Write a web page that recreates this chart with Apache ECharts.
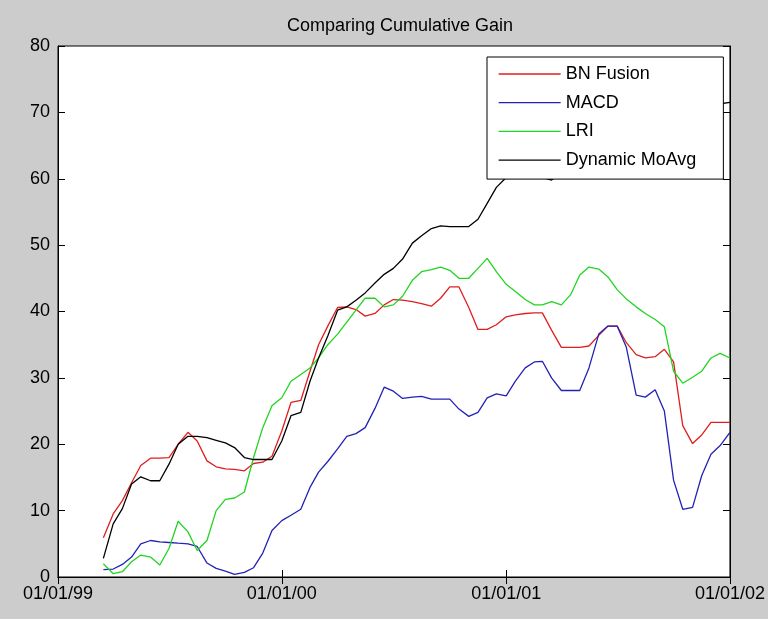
<!DOCTYPE html>
<html>
<head>
<meta charset="utf-8">
<script src="https://cdn.jsdelivr.net/npm/echarts@6/dist/echarts.min.js"></script>
<style>
  html, body { margin: 0; padding: 0; background: #cccccc; }
  #d_chart { width: 768px; height: 619px; }
</style>
</head>
<body>
<div id="d_chart"></div>
<script>
// sample dates (1st and 16th of each month)
var dates = [
  '1999-03-16', '1999-04-01', '1999-04-16', '1999-05-01', '1999-05-16', '1999-06-01', '1999-06-16',
  '1999-07-01', '1999-07-16', '1999-08-01', '1999-08-16', '1999-09-01', '1999-09-16', '1999-10-01',
  '1999-10-16', '1999-11-01', '1999-11-16', '1999-12-01', '1999-12-16',
  '2000-01-01', '2000-01-16', '2000-02-01', '2000-02-16', '2000-03-01', '2000-03-16', '2000-04-01',
  '2000-04-16', '2000-05-01', '2000-05-16', '2000-06-01', '2000-06-16', '2000-07-01', '2000-07-16',
  '2000-08-01', '2000-08-16', '2000-09-01', '2000-09-16', '2000-10-01', '2000-10-16', '2000-11-01',
  '2000-11-16', '2000-12-01', '2000-12-16',
  '2001-01-01', '2001-01-16', '2001-02-01', '2001-02-16', '2001-03-01', '2001-03-16', '2001-04-01',
  '2001-04-16', '2001-05-01', '2001-05-16', '2001-06-01', '2001-06-16', '2001-07-01', '2001-07-16',
  '2001-08-01', '2001-08-16', '2001-09-01', '2001-09-16', '2001-10-01', '2001-10-16', '2001-11-01',
  '2001-11-16', '2001-12-01', '2001-12-16',
  '2002-01-01'
]
var bnFusion = [
  5.9, 9.5, 11.5, 14.2, 16.8, 17.9, 17.9, 18.0, 20.0, 21.8, 20.5, 17.5, 16.6, 16.3, 16.2, 16.0, 17.1, 17.3, 18.2,
  22.0, 26.3, 26.6, 31.0, 35.0, 37.8, 40.6, 40.7, 40.3, 39.3, 39.7, 41.0, 41.8, 41.7, 41.5, 41.2, 40.8, 42.0,
  43.7, 43.7, 40.6, 37.3, 37.3, 38.0,
  39.2, 39.5, 39.7, 39.8, 39.8, 37.2, 34.6, 34.6, 34.6, 34.8, 36.4, 37.8, 37.8, 35.3, 33.5, 33.0, 33.2, 34.3,
  32.4, 22.8, 20.1, 21.4, 23.3, 23.3,
  23.3
]
var macd = [
  1.1, 1.2, 1.9, 3.0, 5.0, 5.5, 5.3, 5.2, 5.1, 5.0, 4.6, 2.1, 1.3, 0.9, 0.4, 0.7, 1.4, 3.6, 7.0,
  8.5, 9.3, 10.2, 13.5, 15.8, 17.4, 19.3, 21.2, 21.6, 22.5, 25.4, 28.6, 28.0, 26.9, 27.1, 27.2, 26.8, 26.8,
  26.8, 25.3, 24.2, 24.8, 27.0, 27.6,
  27.3, 29.5, 31.5, 32.4, 32.5, 30.0, 28.1, 28.1, 28.1, 31.5, 36.6, 37.8, 37.8, 34.6, 27.4, 27.1, 28.2, 25.0,
  14.6, 10.2, 10.5, 15.3, 18.5, 19.8,
  21.8
]
var lri = [
  2.0, 0.5, 0.8, 2.3, 3.3, 3.0, 1.8, 4.3, 8.4, 6.8, 4.0, 5.5, 10.0, 11.7, 11.9, 12.8, 18.0, 22.5, 25.8,
  27.0, 29.5, 30.5, 31.5, 33.0, 35.0, 36.6, 38.4, 40.2, 42.0, 42.0, 40.7, 41.0, 42.3, 44.7, 46.0, 46.3, 46.7,
  46.2, 45.0, 45.0, 46.5, 48.0, 46.0,
  44.1, 43.0, 41.8, 41.0, 41.0, 41.5, 41.0, 42.5, 45.5, 46.7, 46.4, 45.2, 43.3, 41.9, 40.7, 39.7, 38.8, 37.7,
  31.0, 29.2, 30.1, 31.0, 33.0, 33.7,
  33.0
]
var dynMoAvg = [
  2.8, 8.0, 10.3, 14.0, 15.1, 14.5, 14.5, 17.0, 20.0, 21.2, 21.2, 21.0, 20.6, 20.2, 19.5, 18.0, 17.7, 17.7, 17.7,
  20.5, 24.3, 24.8, 29.5, 33.0, 36.3, 40.2, 40.7, 41.7, 42.8, 44.3, 45.6, 46.5, 47.9, 50.3, 51.4, 52.5, 52.9,
  52.8, 52.8, 52.8, 53.9, 56.3, 58.7,
  60.2, 60.5, 60.8, 60.5, 60.2, 59.8, 61.0, 61.5, 62.0, 63.5, 65.0, 66.0, 66.5, 67.0, 67.5, 68.0, 68.5, 69.0,
  69.5, 70.0, 70.3, 70.6, 71.0, 71.3,
  71.5
]
var xTickDates = ['1999-01-01', '2000-01-01', '2001-01-01', '2002-01-01']
var xTickLabels = ['01/01/99', '01/01/00', '01/01/01', '01/01/02']

var FONT = 'Liberation Sans, Arial, sans-serif'
var FS = 18
var names = ['BN Fusion', 'MACD', 'LRI', 'Dynamic MoAvg']
var colors = ['#e01e1e', '#2222b4', '#22d422', '#000000']
var seriesData = [bnFusion, macd, lri, dynMoAvg]

function toTime (d) {
  var p = d.split('-')
  return Date.UTC(+p[0], +p[1] - 1, +p[2])
}
var tickTimes = xTickDates.map(toTime)

function pairs (vals) {
  return dates.map(function (d, i) { return [toTime(d), vals[i]] })
}

var chart = echarts.init(document.getElementById('d_chart'), null, { renderer: 'canvas' })

var xCommon = {
  type: 'value',
  min: tickTimes[0],
  max: tickTimes[tickTimes.length - 1],
  splitLine: { show: false },
  axisLine: { show: true, lineStyle: { color: '#000', width: 1 } }
}
var yCommon = {
  type: 'value',
  min: 0,
  max: 80,
  interval: 10,
  splitLine: { show: false },
  axisLine: { show: true, lineStyle: { color: '#000', width: 1 } }
}

var option = {
  backgroundColor: '#cccccc',
  animation: false,
  title: {
    text: 'Comparing Cumulative Gain',
    left: 395,
    top: 12,
    textAlign: 'center',
    textStyle: { fontFamily: FONT, fontSize: FS, fontWeight: 'normal', color: '#000' }
  },
  grid: {
    left: 58,
    right: 36,
    top: 46,
    bottom: 42,
    show: true,
    backgroundColor: '#ffffff',
    borderColor: '#000',
    borderWidth: 1
  },
  legend: {
    orient: 'vertical',
    left: 487,
    top: 57,
    backgroundColor: '#ffffff',
    borderColor: '#000',
    borderWidth: 1,
    borderRadius: 0,
    padding: [8, 27, 10, 11],
    itemWidth: 62,
    itemHeight: 14,
    itemGap: 10.7,
    itemStyle: { opacity: 0 },
    lineStyle: { width: 1.3 },
    textStyle: { fontFamily: FONT, fontSize: FS, lineHeight: 18, color: '#000' },
    data: names
  },
  xAxis: [
    Object.assign({}, xCommon, {
      position: 'bottom',
      axisTick: { show: true, inside: true, length: 7, customValues: tickTimes, lineStyle: { color: '#000' } },
      axisLabel: {
        show: true,
        customValues: tickTimes,
        margin: 8,
        fontFamily: FONT,
        fontSize: FS,
        color: '#000',
        formatter: function (v) {
          var i = tickTimes.indexOf(+v)
          return i >= 0 ? xTickLabels[i] : ''
        }
      }
    }),
    Object.assign({}, xCommon, {
      position: 'top',
      axisTick: { show: true, inside: true, length: 7, customValues: tickTimes, lineStyle: { color: '#000' } },
      axisLabel: { show: false }
    })
  ],
  yAxis: [
    Object.assign({}, yCommon, {
      position: 'left',
      axisTick: { show: true, inside: true, length: 7, lineStyle: { color: '#000' } },
      axisLabel: { show: true, margin: 8, fontFamily: FONT, fontSize: FS, color: '#000' }
    }),
    Object.assign({}, yCommon, {
      position: 'right',
      axisTick: { show: true, inside: true, length: 7, lineStyle: { color: '#000' } },
      axisLabel: { show: false }
    })
  ],
  series: names.map(function (n, k) {
    return {
      name: n,
      type: 'line',
      xAxisIndex: 0,
      yAxisIndex: 0,
      symbol: 'none',
      clip: true,
      color: colors[k],
      lineStyle: { color: colors[k], width: 1.3 },
      data: pairs(seriesData[k])
    }
  })
}
chart.setOption(option, true)
</script>
</body>
</html>
